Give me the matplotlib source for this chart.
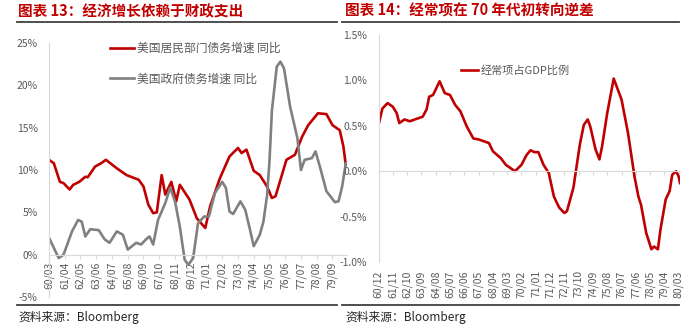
import matplotlib
matplotlib.use("Agg")
import matplotlib.pyplot as plt
from matplotlib.lines import Line2D
from matplotlib.ticker import FuncFormatter

plt.rcParams['font.family'] = ['Noto Sans CJK SC', 'DejaVu Sans']

# ---------------- data: chart 13 ----------------
household_dates = ["1960-03", "1960-07", "1960-12", "1961-03", "1961-08", "1961-11", "1962-04",
                   "1962-09", "1962-11", "1963-05", "1963-10", "1964-02", "1964-11", "1965-07",
                   "1966-05", "1966-09", "1967-01", "1967-05", "1967-08", "1967-12", "1968-03",
                   "1968-08", "1968-12", "1969-03", "1969-11", "1970-05", "1970-12", "1971-04",
                   "1971-12", "1972-08", "1973-03", "1973-06", "1973-10", "1974-04", "1974-09",
                   "1975-03", "1975-07", "1975-10", "1976-07", "1977-02", "1977-08", "1978-01",
                   "1978-09", "1979-04", "1979-09", "1980-03", "1980-06", "1980-08"]
household_growth = [11.2, 10.8, 8.6, 8.45, 7.7, 8.25, 8.6,
                    9.2, 9.15, 10.4, 10.8, 11.2, 10.2, 9.4,
                    8.85, 8.05, 5.9, 4.9, 5.0, 9.4, 7.1,
                    8.6, 6.3, 8.25, 6.5, 4.3, 3.15, 5.7,
                    9.0, 11.6, 12.6, 12.0, 12.4, 9.9, 9.4,
                    8.05, 6.7, 6.9, 11.2, 11.8, 13.95, 15.3,
                    16.7, 16.6, 15.3, 14.7, 12.8, 10.6]

gov_dates = ["1960-03", "1960-11", "1961-03", "1961-10", "1962-03", "1962-06", "1962-09",
             "1963-01", "1963-08", "1964-01", "1964-05", "1964-11", "1965-04", "1965-08",
             "1966-03", "1966-07", "1966-11", "1967-02", "1967-05", "1967-09", "1968-03",
             "1968-07", "1968-11", "1969-03", "1969-07", "1969-10", "1970-02", "1970-06",
             "1970-11", "1971-03", "1971-08", "1972-02", "1972-05", "1972-08", "1972-11",
             "1973-05", "1973-09", "1974-01", "1974-04", "1974-09", "1974-12", "1975-03",
             "1975-05", "1975-07", "1975-11", "1976-02", "1976-05", "1976-10", "1977-04",
             "1977-07", "1977-10", "1978-04", "1978-07", "1978-11", "1979-04", "1979-11",
             "1980-02", "1980-05", "1980-08"]
gov_growth = [2.0, -0.4, 0.0, 2.75, 4.1, 3.9, 2.15,
              3.0, 2.9, 1.8, 1.4, 2.75, 2.35, 0.6,
              1.4, 1.2, 1.8, 2.15, 1.2, 4.1, 6.1,
              7.9, 6.3, 3.3, -0.6, -1.2, -0.4, 3.7,
              4.5, 4.5, 7.3, 8.6, 7.9, 5.1, 4.8,
              6.3, 5.3, 2.9, 1.0, 2.35, 3.9, 7.0,
              11.0, 17.0, 22.2, 22.8, 22.0, 17.5, 13.8,
              10.0, 11.2, 11.4, 12.2, 10.2, 7.5, 6.2,
              6.3, 8.05, 10.8]

left_tick_labels = ["60/03", "61/04", "62/05", "63/06", "64/07", "65/08", "66/09", "67/10",
                    "68/11", "69/12", "71/01", "72/02", "73/03", "74/04", "75/05", "76/06",
                    "77/07", "78/08", "79/09"]

# ---------------- data: chart 14 ----------------
ca_dates = ["1960-12", "1961-03", "1961-07", "1961-11", "1962-02", "1962-04", "1962-08",
            "1962-12", "1963-06", "1963-10", "1964-01", "1964-03", "1964-06", "1964-11",
            "1965-03", "1965-07", "1965-11", "1966-03", "1966-08", "1967-01", "1967-05",
            "1967-09", "1968-01", "1968-04", "1968-10", "1969-02", "1969-04", "1969-09",
            "1970-02", "1970-06", "1970-09", "1970-12", "1971-03", "1971-07", "1971-11",
            "1972-03", "1972-07", "1972-11", "1973-01", "1973-06", "1973-11", "1974-02",
            "1974-05", "1974-07", "1974-11", "1975-02", "1975-04", "1975-08", "1976-01",
            "1976-07", "1976-12", "1977-05", "1977-08", "1977-10", "1978-02", "1978-06",
            "1978-08", "1978-11", "1979-01", "1979-05", "1979-08", "1979-10", "1980-01",
            "1980-03", "1980-04"]
ca_gdp = [0.51, 0.69, 0.75, 0.71, 0.64, 0.53, 0.57,
          0.55, 0.58, 0.60, 0.68, 0.82, 0.84, 0.99,
          0.86, 0.84, 0.73, 0.66, 0.49, 0.36, 0.35,
          0.33, 0.31, 0.22, 0.145, 0.07, 0.05, 0.0,
          0.07, 0.18, 0.23, 0.21, 0.21, 0.07, -0.02,
          -0.28, -0.40, -0.46, -0.44, -0.18, 0.30, 0.51,
          0.57, 0.49, 0.24, 0.13, 0.27, 0.64, 1.02,
          0.79, 0.42, -0.06, -0.28, -0.37, -0.68, -0.86,
          -0.83, -0.86, -0.64, -0.31, -0.22, -0.04, 0.0,
          -0.06, -0.13]

right_tick_labels = ["60/12", "61/11", "62/10", "63/09", "64/08", "65/07", "66/06", "67/05",
                     "68/04", "69/03", "70/02", "71/01", "71/12", "72/11", "73/10", "74/09",
                     "75/08", "76/07", "77/06", "78/05", "79/04", "80/03"]


def month_index(s):
    y, m = s.split("-")
    return (int(y) - 1960) * 12 + int(m) - 1


def label_index(lbl):
    yy, mm = lbl.split("/")
    return (int(yy) - 60) * 12 + int(mm) - 1


RED = "#C00000"
GRAY = "#808080"
TXT = "#595959"
AX = "#D9D9D9"
TITLE = "#C00000"

fig = plt.figure(figsize=(6.99, 3.29), dpi=100)

# ---------------- left chart ----------------
axL = fig.add_axes([49 / 699, 1 - 297 / 329, 298 / 699, 254 / 329])
xh = [month_index(d) for d in household_dates]
xg = [month_index(d) for d in gov_dates]
axL.plot(xh, household_growth, color=RED, lw=1.9, label="美国居民部门债务增速 同比", solid_joinstyle='round')
axL.plot(xg, gov_growth, color=GRAY, lw=1.9, label="美国政府债务增速 同比", solid_joinstyle='round')
for s in ["top", "right"]:
    axL.spines[s].set_visible(False)
axL.spines["bottom"].set_position(("data", 0))
axL.spines["bottom"].set_color(AX)
axL.spines["left"].set_color(AX)
axL.set_ylim(-5, 25)
axL.set_yticks([-5, 0, 5, 10, 15, 20, 25])
axL.yaxis.set_major_formatter(FuncFormatter(lambda v, p: f"{v:.0f}%"))
axL.set_xlim(month_index("1960-03"), month_index("1980-09"))
axL.set_xticks([label_index(l) for l in left_tick_labels])
axL.set_xticklabels(left_tick_labels)
axL.tick_params(axis="x", colors=AX, labelcolor=TXT, labelsize=7.5, length=3, pad=2,
                labelrotation=90)
axL.tick_params(axis="y", colors=AX, labelcolor=TXT, labelsize=7.5, length=0, pad=8)
axL.legend(loc="upper left", bbox_to_anchor=(0.17, 1.045), frameon=False, fontsize=8.5,
           handlelength=2.0, labelspacing=1.45, handletextpad=0.3, labelcolor=TXT)

# ---------------- right chart ----------------
axR = fig.add_axes([378.5 / 699, 1 - 262 / 329, 301.5 / 699, 227 / 329])
xc = [month_index(d) for d in ca_dates]
axR.plot(xc, ca_gdp, color=RED, lw=1.9, label="经常项占GDP比例", solid_joinstyle='round')
for s in ["top", "right"]:
    axR.spines[s].set_visible(False)
axR.spines["bottom"].set_position(("data", 0))
axR.spines["bottom"].set_color(AX)
axR.spines["left"].set_color(AX)
axR.set_ylim(-1.0, 1.5)
axR.set_yticks([-1.0, -0.5, 0.0, 0.5, 1.0, 1.5])
axR.yaxis.set_major_formatter(FuncFormatter(lambda v, p: f"{v:.1f}%"))
axR.set_xlim(month_index("1960-12"), month_index("1980-04"))
rt = [label_index(l) for l in right_tick_labels]
axR.set_xticks(rt)
axR.tick_params(axis="x", colors=AX, length=3, labelbottom=False)
axR.tick_params(axis="y", colors=AX, labelcolor=TXT, labelsize=7.5, length=0, pad=8)
sec = axR.secondary_xaxis(0.0)
sec.set_xticks(rt)
sec.set_xticklabels(right_tick_labels)
sec.spines["bottom"].set_visible(False)
sec.tick_params(axis="x", length=0, labelcolor=TXT, labelsize=7.5, pad=6, labelrotation=90)
axR.legend(loc="upper left", bbox_to_anchor=(0.24, 0.91), frameon=False, fontsize=8,
           handlelength=1.5, handletextpad=0.3, labelcolor=TXT)

# ---------------- titles, rules, sources ----------------
fig.text(18 / 699, 1 - 11 / 329, "图表 13：经济增长依赖于财政支出", color=TITLE, fontsize=10.5,
         fontweight="bold", va="center", ha="left")
fig.text(345 / 699, 1 - 11 / 329, "图表 14：经常项在 70 年代初转向逆差", color=TITLE, fontsize=10.5,
         fontweight="bold", va="center", ha="left")
for x0, x1 in [(17, 337), (342, 679)]:
    fig.add_artist(Line2D([x0 / 699, x1 / 699], [1 - 22 / 329] * 2, color="#404040", lw=1.3,
                          transform=fig.transFigure))
    fig.add_artist(Line2D([x0 / 699, x1 / 699], [1 - 305 / 329] * 2, color="#404040", lw=1.3,
                          transform=fig.transFigure))
fig.text(18 / 699, 1 - 317 / 329, "资料来源：Bloomberg", color="#262626", fontsize=8.5,
         va="center", ha="left")
fig.text(345 / 699, 1 - 317 / 329, "资料来源：Bloomberg", color="#262626", fontsize=8.5,
         va="center", ha="left")

fig.savefig("out.png", dpi=100)
